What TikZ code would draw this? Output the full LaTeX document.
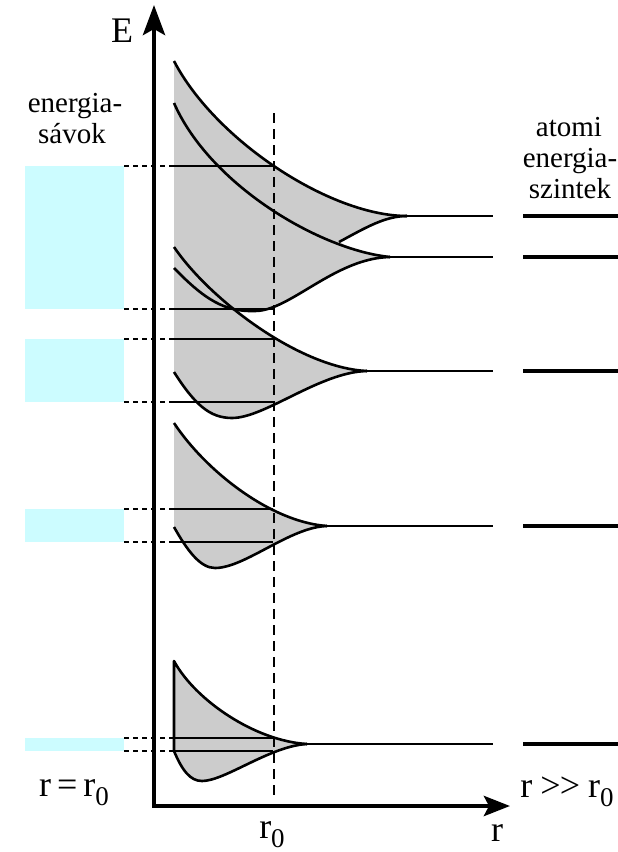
\documentclass[tikz,border=0pt]{standalone}
\usepackage{fontspec}
\setmainfont{Liberation Serif}
\usetikzlibrary{arrows.meta}

\definecolor{bandcyan}{RGB}{204,252,255}
\definecolor{bandgray}{RGB}{204,204,204}
\newcommand{\rnull}{r\raisebox{-0.25em}{\fontsize{27}{27}\selectfont 0}}

\begin{document}
\begin{tikzpicture}[x=1pt, y=-1pt, line join=round]
        \tikzstyle{axis} = [line width=4.5pt, line join=miter, {Stealth[length=30pt, width=22pt, inset=6pt]}-{Stealth[length=26pt, width=20pt, inset=5pt]}]
        \tikzstyle{curve} = [line width=2.6pt]
        \tikzstyle{level} = [line width=2.2pt]
        \tikzstyle{atomic} = [line width=4.2pt]
        \tikzstyle{edge} = [line width=2pt]
        \tikzstyle{guide} = [line width=2pt, dash pattern=on 5pt off 4pt]
        \tikzstyle{bandFill} = [fill=bandgray]
        \tikzstyle{bandBox} = [fill=bandcyan]
        \tikzstyle{lbl} = [inner sep=0pt, anchor=base, font=\fontsize{36}{36}\selectfont]
        \tikzstyle{txt} = [inner sep=0pt, anchor=base, font=\fontsize{29}{31}\selectfont]

        \useasboundingbox (0,0) rectangle (618,852);

        % corners of the axes
        \coordinate (origin) at (154,806);
        \coordinate (etip) at (154,5);
        \coordinate (rtip) at (510,806);

        % atomic levels (r >> r0)
        \coordinate (la) at (407,216);
        \coordinate (lb) at (390,257);
        \coordinate (lc) at (367,371);
        \coordinate (ld) at (327,526);
        \coordinate (le) at (307,744);

        % energy bands on the left
        \foreach \top/\bot in {166/309, 339/402, 509/542, 738/751}
            \path[bandBox] (25,\top) rectangle (124,\bot);

        % gray band regions
        \path[bandFill] (174,61) .. controls (215,140) and (330,216) .. (la)
            .. controls (385,216) and (365,228) .. (339,242)
            .. controls (360,252) and (375,257) .. (lb)
            .. controls (335,258) and (290,311) .. (255,311)
            .. controls (225,312) and (205,300) .. (174,268) -- cycle;
        \path[bandFill] (174,247) .. controls (210,300) and (300,368) .. (lc)
            .. controls (320,372) and (265,418) .. (232,418)
            .. controls (210,418) and (195,405) .. (174,372) -- cycle;
        \path[bandFill] (174,423) .. controls (205,470) and (270,522) .. (ld)
            .. controls (290,527) and (245,568) .. (215,568)
            .. controls (200,568) and (187,550) .. (174,527) -- cycle;
        \path[bandFill] (174,661) .. controls (195,700) and (255,741) .. (le)
            .. controls (270,746) and (225,781) .. (202,781)
            .. controls (190,781) and (182,770) .. (174,751) -- cycle;

        % band edges at r0
        \foreach \y in {166, 309, 339, 402, 509, 542, 738, 751} {
            \draw[guide] (124,\y) -- (174,\y);
            \draw[edge] (174,\y) -- (273,\y);
        }

        % r0 line
        \draw[line width=2pt, dash pattern=on 10pt off 6pt] (274,113) -- (274,795);

        % splitting curves
        \draw[curve] (174,61) .. controls (215,140) and (330,216) .. (la);
        \draw[curve] (339,242) .. controls (365,228) and (385,216) .. (la);
        \draw[curve] (174,103) .. controls (210,185) and (320,250) .. (lb);
        \draw[curve] (174,268) .. controls (205,300) and (225,312) .. (255,311)
            .. controls (290,311) and (335,258) .. (lb);
        \draw[curve] (174,247) .. controls (210,300) and (300,368) .. (lc);
        \draw[curve] (174,372) .. controls (195,405) and (210,418) .. (232,418)
            .. controls (265,418) and (320,372) .. (lc);
        \draw[curve] (174,423) .. controls (205,470) and (270,522) .. (ld);
        \draw[curve] (174,527) .. controls (187,550) and (200,568) .. (215,568)
            .. controls (245,568) and (290,527) .. (ld);
        \draw[curve] (174,751) -- (174,661) .. controls (195,700) and (255,741) .. (le);
        \draw[curve] (174,751) .. controls (182,770) and (190,781) .. (202,781)
            .. controls (225,781) and (270,746) .. (le);

        % levels running out to large r
        \foreach \p/\y in {la/216, lb/257, lc/371, ld/526, le/744} {
            \draw[level] (\p) -- (493,\y);
            \draw[atomic] (523,\y) -- (618,\y);
        }

        % axes
        \draw[axis] (etip) -- (origin) -- (rtip);

        % labels
        \node[lbl] (elabel) at (122,42) {E};
        \node[lbl] (rlabel) at (497,841) {r};
        \node[lbl] (rnull) at (272,838) {\rnull};
        \node[lbl] (near) at (74,796) {r\kern6pt=\kern6pt\rnull};
        \node[lbl] (far) at (567,797) {r\kern8pt\textgreater\kern-1pt\textgreater\kern8pt\rnull};

        \node[txt] (bands1) at (75,112) {energia-};
        \node[txt] (bands2) at (72,143) {sávok};
        \node[txt] (atoms1) at (569,136) {atomi};
        \node[txt] (atoms2) at (570,167) {energia-};
        \node[txt] (atoms3) at (570,198) {szintek};
\end{tikzpicture}
\end{document}
